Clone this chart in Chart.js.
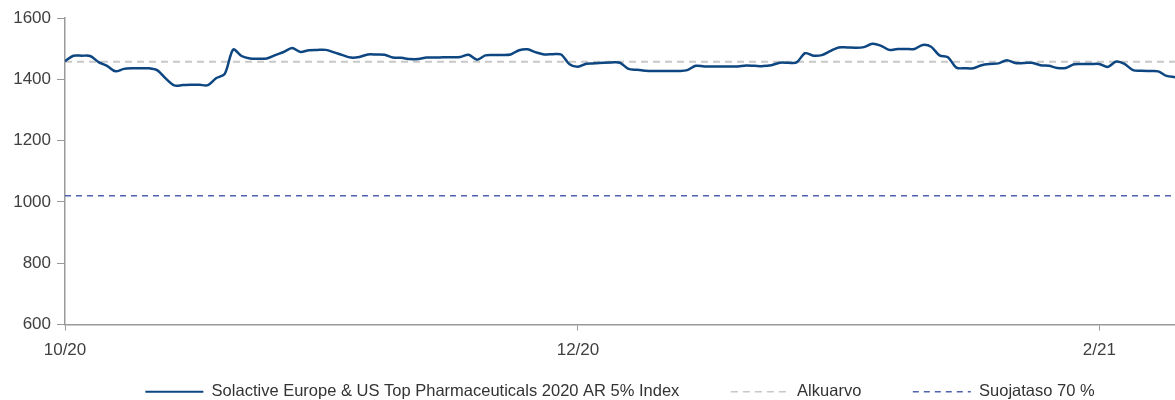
<!DOCTYPE html>
<html>
<head>
<meta charset="utf-8">
<script src="https://cdn.jsdelivr.net/npm/chart.js@4/dist/chart.umd.min.js"></script>
<style>
  html, body { margin: 0; padding: 0; background: #fff; }
  #wrap { width: 1175px; height: 400px; }
</style>
</head>
<body>
<div id="wrap"><canvas id="chart"></canvas></div>
<script>
// days since 1.10.2020, one value per calendar day
const indexValues = [
  1459, 1477, 1477, 1476, 1456, 1444, 1426, 1434, 1436, 1436,
  1436, 1429, 1402, 1380, 1381, 1382, 1382, 1381, 1404, 1418,
  1497, 1476, 1468, 1467, 1468, 1479, 1489, 1502, 1489, 1495,
  1496, 1496, 1488, 1479, 1471, 1473, 1481, 1481, 1480, 1471,
  1470, 1466, 1466, 1471, 1471, 1472, 1472, 1473, 1480, 1464,
  1478, 1479, 1479, 1481, 1495, 1498, 1488, 1481, 1482, 1481,
  1449, 1441, 1451, 1452, 1454, 1455, 1454, 1434, 1431, 1428,
  1427, 1427, 1427, 1427, 1430, 1444, 1442, 1442, 1442, 1442,
  1442, 1445, 1444, 1443, 1446, 1454, 1454, 1455, 1485, 1477,
  1479, 1492, 1504, 1504, 1503, 1505, 1516, 1510, 1496, 1499,
  1499, 1499, 1512, 1506, 1478, 1472, 1438, 1436, 1436, 1446,
  1450, 1452, 1462, 1453, 1453, 1454, 1446, 1444, 1437, 1437,
  1449, 1450, 1450, 1450, 1440, 1458, 1450, 1430, 1428, 1427,
  1426, 1411, 1407
]
const alkuarvo = 1457
const suojataso = 1020

const tickDays = [0, 61, 123]
const tickLabels = ['10/20', '12/20', '2/21']

const names = [
  'Solactive Europe & US Top Pharmaceuticals 2020 AR 5% Index',
  'Alkuarvo',
  'Suojataso 70 %'
]

const lastDay = indexValues.length - 1
const indexPoints = indexValues.map((v, i) => ({ x: i, y: v }))

Chart.defaults.font.family = "'Liberation Sans', Arial, sans-serif"
Chart.defaults.font.size = 17
Chart.defaults.color = '#404040'

// wide gap between legend entries without making the legend tall
const legendGap = '\u2003\u2003\u2003'

const ctx = document.getElementById('chart')
new Chart(ctx, {
  type: 'line',
  data: {
    datasets: [{
      label: names[0],
      data: indexPoints,
      borderColor: '#0d4680',
      borderWidth: 2.5,
      pointRadius: 0,
      tension: 0.3,
      order: 0
    }, {
      label: names[1],
      data: [{ x: 0, y: alkuarvo }, { x: lastDay, y: alkuarvo }],
      borderColor: '#c8c8c8',
      borderWidth: 2,
      borderDash: [7, 5],
      pointRadius: 0,
      order: 1
    }, {
      label: names[2],
      data: [{ x: 0, y: suojataso }, { x: lastDay, y: suojataso }],
      borderColor: '#4f63b0',
      borderWidth: 1.5,
      borderDash: [6, 5],
      pointRadius: 0,
      order: 2
    }]
  },
  options: {
    responsive: true,
    maintainAspectRatio: false,
    animation: false,
    layout: { padding: { left: 0, right: 0, top: 18, bottom: -10 } },
    plugins: {
      tooltip: { enabled: false },
      legend: {
        position: 'bottom',
        fullSize: false,
        labels: {
          usePointStyle: true,
          pointStyle: 'line',
          pointStyleWidth: 58,
          padding: 2,
          color: '#333',
          font: { size: 16.5 },
          generateLabels: chart => {
            const items = Chart.defaults.plugins.legend.labels.generateLabels(chart)
            items.forEach((it, i) => {
              const ds = chart.data.datasets[it.datasetIndex]
              it.lineDash = ds.borderDash || []
              it.strokeStyle = ds.borderColor
              it.lineWidth = it.datasetIndex === 0 ? 2 : 1.5
              if (i < items.length - 1) it.text += legendGap
            })
            return items
          }
        }
      }
    },
    scales: {
      x: {
        type: 'linear',
        min: 0,
        max: lastDay,
        afterBuildTicks: scale => {
          scale.ticks = tickDays.map(d => ({ value: d }))
        },
        ticks: {
          autoSkip: false,
          maxRotation: 0,
          padding: 10,
          callback: v => tickLabels[tickDays.indexOf(v)]
        },
        grid: { drawOnChartArea: false, drawTicks: true, tickLength: 6, color: '#999' },
        border: { color: '#999', width: 1.5 },
        afterFit: scale => { scale.height = 57 }
      },
      y: {
        min: 600,
        max: 1600,
        ticks: { stepSize: 200, padding: 6, callback: v => String(v) },
        grid: { drawOnChartArea: false, drawTicks: true, tickLength: 8, color: '#999' },
        border: { color: '#999', width: 1.5 },
        afterFit: scale => { scale.width = 65 }
      }
    }
  }
})
</script>
</body>
</html>
